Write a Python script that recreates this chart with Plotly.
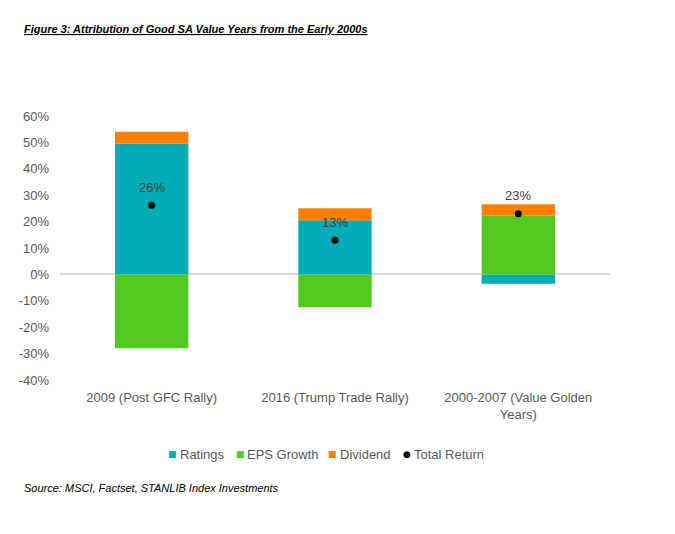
import plotly.graph_objects as go

categories = ["2009 (Post GFC Rally)", "2016 (Trump Trade Rally)", "2000-2007 (Value Golden<br>Years)"]
ratings = [0.495, 0.205, -0.035]
eps_growth = [-0.28, -0.124, 0.222]
dividend = [0.045, 0.046, 0.044]
total_return = [0.262, 0.129, 0.23]
total_labels = ["26%", "13%", "23%"]
y_ticks = [-0.4, -0.3, -0.2, -0.1, 0, 0.1, 0.2, 0.3, 0.4, 0.5, 0.6]
y_tick_labels = ["-40%", "-30%", "-20%", "-10%", "0%", "10%", "20%", "30%", "40%", "50%", "60%"]
series_names = ["Ratings", "EPS Growth", "Dividend", "Total Return"]

TEAL = "#00ACB6"
GREEN = "#52C91F"
ORANGE = "#FF7F00"
GREY = "#595959"
FONT = "Liberation Sans, Arial, sans-serif"
NARROW = "Liberation Sans Narrow, Arial Narrow, sans-serif"

L, R, T, B = 52, 73, 108, 162
W, H = 675, 534
PW, PH = W - L - R, H - T - B

def px_x(px):
    return (px - L) / PW

def px_y(py):
    return (H - B - py) / PH

fig = go.Figure()
fig.add_trace(go.Bar(x=categories, y=ratings, name=series_names[0], marker=dict(color=TEAL, line=dict(width=0))))
fig.add_trace(go.Bar(x=categories, y=eps_growth, name=series_names[1], marker=dict(color=GREEN, line=dict(width=0))))
fig.add_trace(go.Bar(x=categories, y=dividend, name=series_names[2], marker=dict(color=ORANGE, line=dict(width=0))))
fig.add_trace(go.Scatter(x=categories, y=total_return, name=series_names[3], mode="markers",
                         marker=dict(color="black", size=7, symbol="circle")))

for c, v, t in zip(categories, total_return, total_labels):
    fig.add_annotation(x=c, y=v, text=t, showarrow=False, yshift=18,
                       font=dict(family=FONT, size=13, color="#404040"))

# custom legend (compact spacing like the original)
leg_colors = [TEAL, GREEN, ORANGE, "black"]
leg_syms = ["■", "■", "■", "●"]
sym_px = [164, 232, 324, 399]
txt_px = [170, 237, 330, 404]
leg_y = px_y(446)
for name, col, sym, sx, tx in zip(series_names, leg_colors, leg_syms, sym_px, txt_px):
    fig.add_annotation(xref="paper", yref="paper", x=px_x(sx), y=leg_y, xanchor="center", yanchor="middle",
                       text=sym, showarrow=False, font=dict(family="DejaVu Sans", size=9, color=col))
    fig.add_annotation(xref="paper", yref="paper", x=px_x(tx), y=leg_y, xanchor="left", yanchor="middle",
                       text=name, showarrow=False, font=dict(family=FONT, size=13, color=GREY))

fig.add_annotation(xref="paper", yref="paper", x=px_x(14), y=px_y(21), xanchor="left", yanchor="middle",
                   text="<b><i><u>Figure 3: Attribution of Good SA Value Years from the Early 2000s</u></i></b>",
                   showarrow=False, font=dict(family=NARROW, size=11, color="black"))
fig.add_annotation(xref="paper", yref="paper", x=px_x(14), y=px_y(480), xanchor="left", yanchor="middle",
                   text="<i>Source: MSCI, Factset, STANLIB Index Investments</i>",
                   showarrow=False, font=dict(family=NARROW, size=11, color="black"))

fig.update_layout(
    width=W, height=H,
    margin=dict(l=L, r=R, t=T, b=B),
    barmode="relative",
    bargap=0.6,
    plot_bgcolor="white", paper_bgcolor="white",
    font=dict(family=FONT, size=12, color=GREY),
    showlegend=False,
    xaxis=dict(showgrid=False, showline=False, ticks="", tickfont=dict(size=13, color=GREY),
               ticklabelstandoff=8),
    yaxis=dict(range=[-0.4, 0.6], tickvals=y_ticks, ticktext=y_tick_labels, showgrid=False,
               zeroline=True, zerolinecolor="#D9D9D9", zerolinewidth=1.5,
               tickfont=dict(size=13, color=GREY), ticks="", showline=False, ticklabelstandoff=10),
)

fig.write_html("out.html")
